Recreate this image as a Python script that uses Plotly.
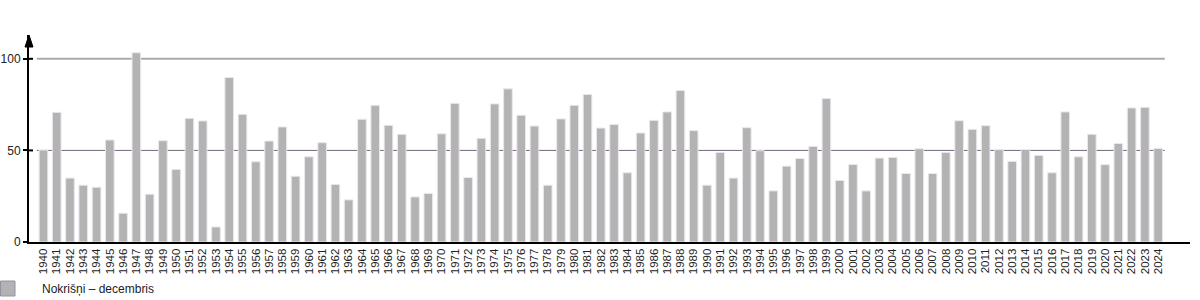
import plotly.graph_objects as go

years = list(range(1940, 2025))
precip = [
    50.2, 70.8, 34.9, 31.0, 29.9, 55.7, 15.7, 103.3, 26.1, 55.3,
    39.6, 67.5, 66.1, 8.2, 89.8, 69.7, 43.8, 55.1, 62.8, 35.9,
    46.5, 54.2, 31.4, 23.0, 67.0, 74.6, 63.7, 58.8, 24.6, 26.5,
    59.1, 75.7, 35.2, 56.6, 75.4, 83.6, 69.2, 63.3, 31.0, 67.2,
    74.6, 80.5, 62.2, 64.1, 37.8, 59.5, 66.4, 71.0, 82.7, 60.8,
    31.0, 48.9, 34.9, 62.4, 49.8, 27.9, 41.4, 45.6, 52.2, 78.3,
    33.6, 42.3, 27.9, 45.8, 46.2, 37.4, 50.9, 37.4, 48.9, 66.2,
    61.5, 63.5, 50.4, 44.0, 50.5, 47.3, 37.8, 71.0, 46.5, 58.8,
    42.2, 53.8, 73.2, 73.5, 51.1,
]
y_ticks = [0, 50, 100]
legend_label = "Nokrišņi – decembris"

W, H = 1200, 300
L, R, T, B = 29, 10, 35, 58
pw = W - L - R
ph = H - T - B
YMAX = 113

def px_x(p):
    return (p - L) / pw

def px_y(p):
    return (H - B - p) / ph

font = "Liberation Sans, Arial, sans-serif"

fig = go.Figure()
fig.add_trace(go.Bar(
    x=years, y=precip, name=legend_label,
    marker=dict(color="#b3b3b3", line=dict(color="#ece6ee", width=1)),
    showlegend=False,
))

shapes = []
# gridlines
shapes.append(dict(type="line", xref="x", yref="y", x0=1939.5, x1=2024.5, y0=100, y1=100,
                   line=dict(color="#ababab", width=2), layer="below"))
shapes.append(dict(type="line", xref="x", yref="y", x0=1939.5, x1=2024.5, y0=50, y1=50,
                   line=dict(color="#736878", width=1), layer="below"))
# inner tick parts
for v in y_ticks[1:]:
    shapes.append(dict(type="line", xref="paper", yref="y", x0=0, x1=px_x(33), y0=v, y1=v,
                       line=dict(color="black", width=2)))
# arrow head
ax0 = 0
hw = 4 / pw
ah = 12 * YMAX / ph
shapes.append(dict(type="path", xref="paper", yref="y",
                   path=f"M {ax0-hw},{YMAX-ah} L {ax0},{YMAX} L {ax0+hw},{YMAX-ah} Z",
                   fillcolor="black", line=dict(color="black", width=1)))
# legend swatch
shapes.append(dict(type="rect", xref="paper", yref="paper",
                   x0=px_x(0.5), x1=px_x(15), y0=px_y(296), y1=px_y(281),
                   fillcolor="#b3b3b3", line=dict(color="#9a8fa0", width=1)))

fig.update_layout(
    width=W, height=H,
    margin=dict(l=L, r=R, t=T, b=B, pad=0, autoexpand=False),
    paper_bgcolor="white", plot_bgcolor="white",
    bargap=0.35,
    font=dict(family=font, size=12, color="#222"),
    shapes=shapes,
    annotations=[dict(xref="paper", yref="paper", x=px_x(40), y=px_y(289),
                      xanchor="left", yanchor="middle", showarrow=False,
                      text=legend_label, font=dict(family=font, size=12, color="#222"))],
)
fig.update_xaxes(
    range=[1938.91, 2026.4],
    tickmode="array", tickvals=years, ticktext=[str(y) for y in years],
    tickangle=-90, tickfont=dict(size=11.5),
    showgrid=False, zeroline=False,
    showline=True, linecolor="black", linewidth=2,
    ticks="", fixedrange=True, automargin=False,
)
fig.update_yaxes(
    range=[0, YMAX],
    tickmode="array", tickvals=y_ticks,
    ticks="outside", ticklen=4, tickwidth=2, tickcolor="black",
    showgrid=False, zeroline=False,
    showline=True, linecolor="black", linewidth=2,
    tickfont=dict(size=12), fixedrange=True, automargin=False,
)

fig.write_html("out.html")
